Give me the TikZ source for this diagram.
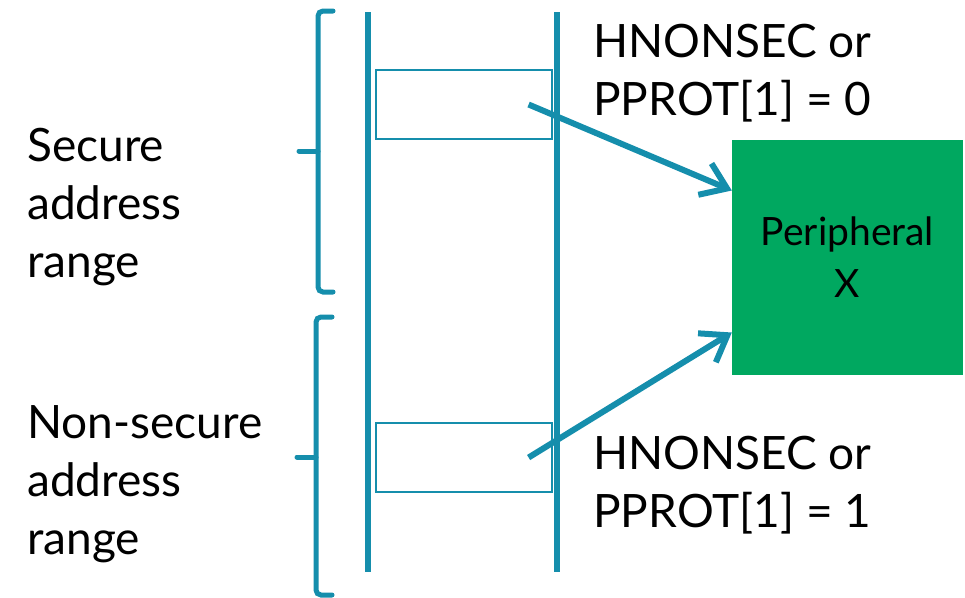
\documentclass[tikz,border=0pt]{standalone}
\usepackage{fontspec}
\setmainfont{Lato}
\usetikzlibrary{arrows.meta}

\definecolor{bus}{RGB}{21,142,172}
\definecolor{gruen}{RGB}{0,168,96}

\begin{document}
\begin{tikzpicture}[x=1pt,y=-1pt,
    balken/.style={
      draw=bus,
      line width=6pt},
    klammer/.style={
      draw=bus,
      line width=5pt,
      line cap=round,
      rounded corners=5pt},
    fach/.style={
      rectangle,
      draw=bus,
      line width=1.2pt,
      minimum width=176pt,
      minimum height=69pt,
      inner sep=0pt},
    pfeil/.style={
      draw=bus,
      line width=6pt,
      -{Straight Barb[length=24pt,width=34pt]}},
    beschriftung/.style={
      anchor=north west,
      inner sep=0pt,
      align=left,
      font=\fontsize{46}{58}\selectfont},
    peripherie/.style={
      rectangle,
      fill=gruen,
      minimum width=231pt,
      minimum height=235pt,
      inner sep=0pt,
      align=center,
      font=\fontsize{39}{52}\selectfont}
    ]

  \useasboundingbox (0,0) rectangle (965,597);

  \draw[balken] (368,12) -- (368,572);
  \draw[balken] (557,12) -- (557,572);

  \draw[klammer] (333,11) -- (318,11) -- (318,292) -- (333,292);
  \draw[klammer] (318,151) -- (299,151);
  \draw[klammer] (332,317) -- (316,317) -- (316,595) -- (332,595);
  \draw[klammer] (316,457) -- (297,457);

\node at (464,104.5) (fach0) [fach] {};
\node at (464,457.5) (fach1) [fach] {};
\node at (847.5,257.5) (peri) [peripherie] {Peripheral\\X};

\node at (27,128) (sicher) [beschriftung] {Secure\\address\\range};
\node at (27,405) (unsicher) [beschriftung] {Non-secure\\address\\range};
\node at (593,24) (prot0) [beschriftung] {HNONSEC or\\PPROT[1] = 0};
\node at (593,436) (prot1) [beschriftung] {HNONSEC or\\PPROT[1] = 1};

  \path
        ([xshift=-24pt]fach0.east) edge[pfeil] ([yshift=67pt]peri.west)
        ([xshift=-24pt]fach1.east) edge[pfeil] ([yshift=-75pt]peri.west)
   ;

\end{tikzpicture}
\end{document}
